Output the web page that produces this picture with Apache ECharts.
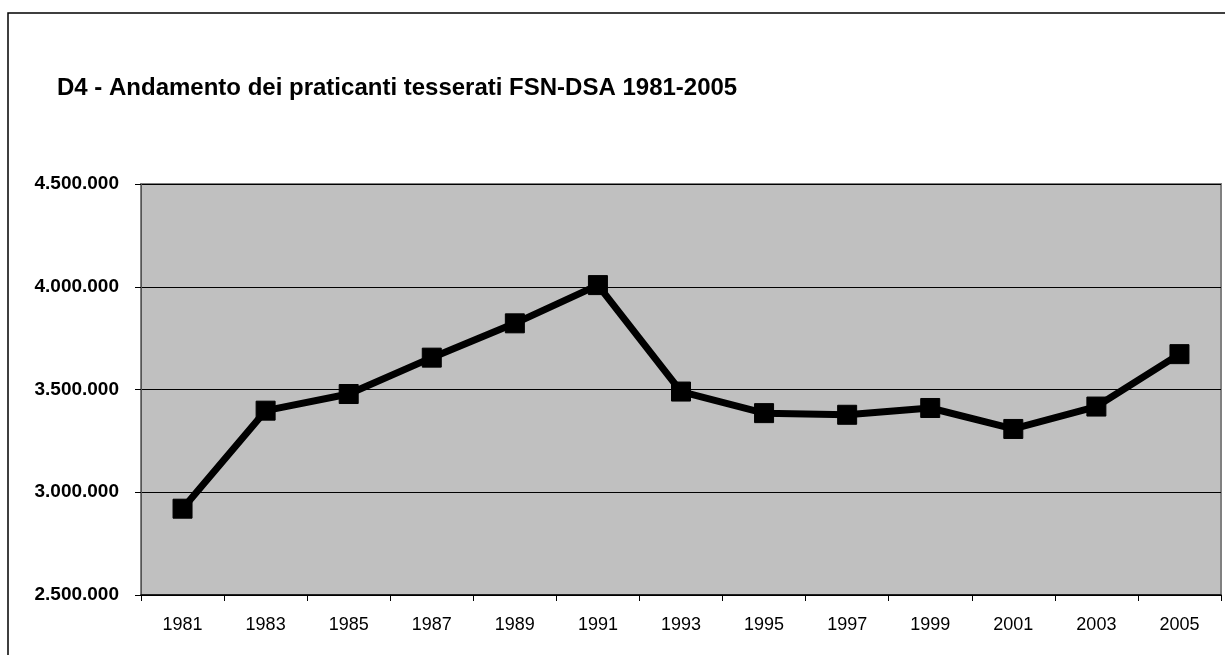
<!DOCTYPE html>
<html>
<head>
<meta charset="utf-8">
<script src="https://cdn.jsdelivr.net/npm/echarts@6/dist/echarts.min.js"></script>
<style>
html,body{margin:0;padding:0;background:#fff;}
#chart{width:1225px;height:655px;}
</style>
</head>
<body>
<div id="chart"></div>
<script>
const titleText = 'D4 - Andamento dei praticanti tesserati FSN-DSA 1981-2005';
const years = ['1981','1983','1985','1987','1989','1991','1993','1995','1997','1999','2001','2003','2005'];
const praticanti = [2920000,3397000,3478000,3655000,3822000,4008000,3490000,3385000,3377000,3410000,3308000,3417000,3672000];
const yMin = 2500000, yMax = 4500000, yStep = 500000;

function fmt(v){
  return String(Math.round(v)).replace(/\B(?=(\d{3})+(?!\d))/g, '.');
}

const chart = echarts.init(document.getElementById('chart'), null, {renderer:'canvas'});
const FONT = '"Liberation Sans", Arial, sans-serif';
chart.setOption({
  animation:false,
  backgroundColor:'#fff',
  textStyle:{fontFamily:FONT},
  title:{
    text:titleText,
    left:52, top:71,
    textStyle:{fontFamily:FONT,fontSize:24,fontWeight:'bold',color:'#000'}
  },
  graphic:[{
    type:'rect',
    shape:{x:8,y:13,width:1300,height:700},
    style:{fill:'none',stroke:'#000',lineWidth:1.5},
    silent:true, z:-1
  }],
  grid:{
    left:141, right:4, top:184, bottom:60,
    show:true, backgroundColor:'#C0C0C0', borderColor:'#808080', borderWidth:2,
    containLabel:false
  },
  xAxis:{
    type:'category',
    data:years,
    boundaryGap:true,
    axisLine:{show:true,lineStyle:{color:'#000',width:1.5}},
    axisTick:{show:true,alignWithLabel:false,length:6,lineStyle:{color:'#000',width:1}},
    axisLabel:{color:'#000',fontSize:18,fontFamily:FONT,margin:21}
  },
  yAxis:{
    type:'value',
    min:yMin, max:yMax, interval:yStep,
    axisLine:{show:true,lineStyle:{color:'#555',width:1}},
    axisTick:{show:true,length:6,lineStyle:{color:'#000',width:1}},
    splitLine:{show:true,lineStyle:{color:'#000',width:1}},
    axisLabel:{color:'#000',fontSize:19,fontWeight:'bold',fontFamily:FONT,margin:22,formatter:fmt}
  },
  series:[{
    type:'line',
    data:praticanti,
    symbol:'rect',
    symbolSize:19,
    lineStyle:{color:'#000',width:7},
    itemStyle:{color:'#000',borderColor:'#000'},
    z:5
  }]
});
</script>
</body>
</html>
